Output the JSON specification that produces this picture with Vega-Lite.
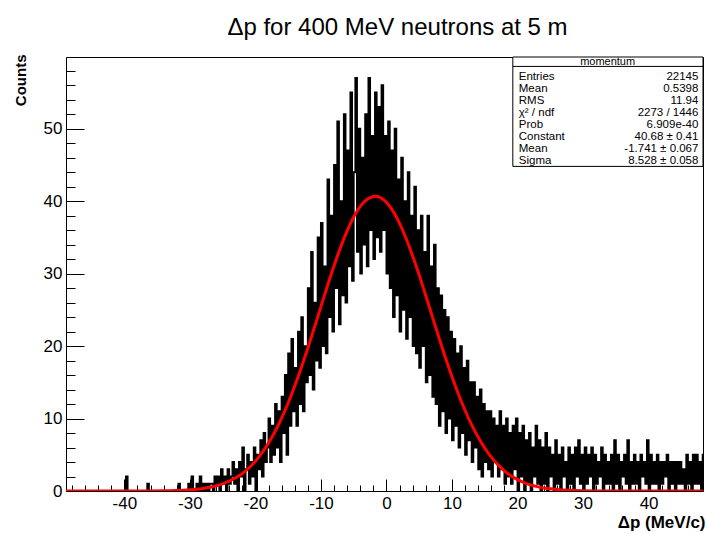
{
  "$schema": "https://vega.github.io/schema/vega-lite/v6.json",
  "width": 637,
  "height": 434,
  "autosize": {"type": "none"},
  "padding": {"left": 66, "top": 57, "right": 4, "bottom": 43},
  "background": "#ffffff",
  "config": {"font": "Liberation Sans", "view": {"stroke": "#000000", "strokeWidth": 1}},
  "title": {"text": "Δp for 400 MeV neutrons at 5 m", "font": "Liberation Sans", "fontSize": 24, "fontWeight": "normal", "color": "#000000", "anchor": "middle", "frame": "group", "dx": 13, "offset": 14},
  "datasets": {
    "hist": [
      {"x":-48.75,"c":0},{"x":-48.5,"c":0},{"x":-48.25,"c":0},{"x":-48,"c":0},{"x":-47.75,"c":0},{"x":-47.5,"c":0},{"x":-47.25,"c":0},{"x":-47,"c":0},
      {"x":-46.75,"c":0},{"x":-46.5,"c":0},{"x":-46.25,"c":0},{"x":-46,"c":0},{"x":-45.75,"c":0},{"x":-45.5,"c":0},{"x":-45.25,"c":0},{"x":-45,"c":0},
      {"x":-44.75,"c":0},{"x":-44.5,"c":0},{"x":-44.25,"c":0},{"x":-44,"c":0},{"x":-43.75,"c":0},{"x":-43.5,"c":0},{"x":-43.25,"c":0},{"x":-43,"c":0},
      {"x":-42.75,"c":0},{"x":-42.5,"c":0},{"x":-42.25,"c":0},{"x":-42,"c":0},{"x":-41.75,"c":0},{"x":-41.5,"c":0},{"x":-41.25,"c":0},{"x":-41,"c":0},
      {"x":-40.75,"c":0},{"x":-40.5,"c":0},{"x":-40.25,"c":0},{"x":-40,"c":0},{"x":-39.75,"c":2},{"x":-39.5,"c":0},{"x":-39.25,"c":0},{"x":-39,"c":0},
      {"x":-38.75,"c":0},{"x":-38.5,"c":0},{"x":-38.25,"c":0},{"x":-38,"c":0},{"x":-37.75,"c":0},{"x":-37.5,"c":0},{"x":-37.25,"c":0},{"x":-37,"c":0},
      {"x":-36.75,"c":0},{"x":-36.5,"c":1},{"x":-36.25,"c":0},{"x":-36,"c":0},{"x":-35.75,"c":0},{"x":-35.5,"c":0},{"x":-35.25,"c":0},{"x":-35,"c":0},
      {"x":-34.75,"c":0},{"x":-34.5,"c":0},{"x":-34.25,"c":0},{"x":-34,"c":0},{"x":-33.75,"c":0},{"x":-33.5,"c":0},{"x":-33.25,"c":0},{"x":-33,"c":0},
      {"x":-32.75,"c":0},{"x":-32.5,"c":0},{"x":-32.25,"c":0},{"x":-32,"c":0},{"x":-31.75,"c":1},{"x":-31.5,"c":0},{"x":-31.25,"c":0},{"x":-31,"c":0},
      {"x":-30.75,"c":0},{"x":-30.5,"c":0},{"x":-30.25,"c":1},{"x":-30,"c":0},{"x":-29.75,"c":2},{"x":-29.5,"c":0},{"x":-29.25,"c":0},{"x":-29,"c":1},
      {"x":-28.75,"c":0},{"x":-28.5,"c":2},{"x":-28.25,"c":0},{"x":-28,"c":1},{"x":-27.75,"c":0},{"x":-27.5,"c":1},{"x":-27.25,"c":0},{"x":-27,"c":1},
      {"x":-26.75,"c":1},{"x":-26.5,"c":0},{"x":-26.25,"c":2},{"x":-26,"c":1},{"x":-25.75,"c":2},{"x":-25.5,"c":0},{"x":-25.25,"c":3},{"x":-25,"c":1},
      {"x":-24.75,"c":2},{"x":-24.5,"c":0},{"x":-24.25,"c":3},{"x":-24,"c":1},{"x":-23.75,"c":2},{"x":-23.5,"c":4},{"x":-23.25,"c":1},{"x":-23,"c":3},
      {"x":-22.75,"c":0},{"x":-22.5,"c":4},{"x":-22.25,"c":2},{"x":-22,"c":6},{"x":-21.75,"c":0},{"x":-21.5,"c":3},{"x":-21.25,"c":5},{"x":-21,"c":1},
      {"x":-20.75,"c":4},{"x":-20.5,"c":2},{"x":-20.25,"c":6},{"x":-20,"c":0},{"x":-19.75,"c":5},{"x":-19.5,"c":3},{"x":-19.25,"c":7},{"x":-19,"c":2},
      {"x":-18.75,"c":8},{"x":-18.5,"c":4},{"x":-18.25,"c":6},{"x":-18,"c":10},{"x":-17.75,"c":4},{"x":-17.5,"c":9},{"x":-17.25,"c":5},{"x":-17,"c":12},
      {"x":-16.75,"c":6},{"x":-16.5,"c":11},{"x":-16.25,"c":4},{"x":-16,"c":13},{"x":-15.75,"c":8},{"x":-15.5,"c":16},{"x":-15.25,"c":5},{"x":-15,"c":19},
      {"x":-14.75,"c":9},{"x":-14.5,"c":21},{"x":-14.25,"c":11},{"x":-14,"c":17},{"x":-13.75,"c":9},{"x":-13.5,"c":22},{"x":-13.25,"c":12},{"x":-13,"c":24},
      {"x":-12.75,"c":11},{"x":-12.5,"c":20},{"x":-12.25,"c":15},{"x":-12,"c":28},{"x":-11.75,"c":16},{"x":-11.5,"c":33},{"x":-11.25,"c":14},{"x":-11,"c":26},
      {"x":-10.75,"c":18},{"x":-10.5,"c":35},{"x":-10.25,"c":17},{"x":-10,"c":37},{"x":-9.75,"c":20},{"x":-9.5,"c":31},{"x":-9.25,"c":19},{"x":-9,"c":43},
      {"x":-8.75,"c":24},{"x":-8.5,"c":38},{"x":-8.25,"c":22},{"x":-8,"c":45},{"x":-7.75,"c":28},{"x":-7.5,"c":51},{"x":-7.25,"c":23},{"x":-7,"c":40},
      {"x":-6.75,"c":27},{"x":-6.5,"c":52},{"x":-6.25,"c":26},{"x":-6,"c":47},{"x":-5.75,"c":31},{"x":-5.5,"c":55},{"x":-5.25,"c":29},{"x":-5,"c":44},
      {"x":-4.75,"c":57},{"x":-4.5,"c":33},{"x":-4.25,"c":50},{"x":-4,"c":30},{"x":-3.75,"c":46},{"x":-3.5,"c":34},{"x":-3.25,"c":52},{"x":-3,"c":31},
      {"x":-2.75,"c":57},{"x":-2.5,"c":36},{"x":-2.25,"c":49},{"x":-2,"c":32},{"x":-1.75,"c":55},{"x":-1.5,"c":35},{"x":-1.25,"c":53},{"x":-1,"c":33},
      {"x":-0.75,"c":56},{"x":-0.5,"c":36},{"x":-0.25,"c":49},{"x":0,"c":30},{"x":0.25,"c":51},{"x":0.5,"c":28},{"x":0.75,"c":47},{"x":1,"c":24},
      {"x":1.25,"c":50},{"x":1.5,"c":27},{"x":1.75,"c":43},{"x":2,"c":22},{"x":2.25,"c":46},{"x":2.5,"c":25},{"x":2.75,"c":40},{"x":3,"c":21},
      {"x":3.25,"c":44},{"x":3.5,"c":24},{"x":3.75,"c":38},{"x":4,"c":20},{"x":4.25,"c":42},{"x":4.5,"c":19},{"x":4.75,"c":36},{"x":5,"c":17},
      {"x":5.25,"c":38},{"x":5.5,"c":20},{"x":5.75,"c":33},{"x":6,"c":15},{"x":6.25,"c":38},{"x":6.5,"c":16},{"x":6.75,"c":31},{"x":7,"c":13},
      {"x":7.25,"c":34},{"x":7.5,"c":12},{"x":7.75,"c":28},{"x":8,"c":9},{"x":8.25,"c":27},{"x":8.5,"c":11},{"x":8.75,"c":25},{"x":9,"c":8},
      {"x":9.25,"c":24},{"x":9.5,"c":10},{"x":9.75,"c":22},{"x":10,"c":7},{"x":10.25,"c":21},{"x":10.5,"c":9},{"x":10.75,"c":19},{"x":11,"c":6},
      {"x":11.25,"c":20},{"x":11.5,"c":8},{"x":11.75,"c":17},{"x":12,"c":5},{"x":12.25,"c":18},{"x":12.5,"c":7},{"x":12.75,"c":15},{"x":13,"c":4},
      {"x":13.25,"c":15},{"x":13.5,"c":6},{"x":13.75,"c":13},{"x":14,"c":3},{"x":14.25,"c":14},{"x":14.5,"c":2},{"x":14.75,"c":12},{"x":15,"c":4},
      {"x":15.25,"c":11},{"x":15.5,"c":3},{"x":15.75,"c":11},{"x":16,"c":2},{"x":16.25,"c":10},{"x":16.5,"c":4},{"x":16.75,"c":9},{"x":17,"c":2},
      {"x":17.25,"c":11},{"x":17.5,"c":3},{"x":17.75,"c":9},{"x":18,"c":1},{"x":18.25,"c":10},{"x":18.5,"c":2},{"x":18.75,"c":8},{"x":19,"c":1},
      {"x":19.25,"c":9},{"x":19.5,"c":3},{"x":19.75,"c":10},{"x":20,"c":0},{"x":20.25,"c":8},{"x":20.5,"c":2},{"x":20.75,"c":9},{"x":21,"c":0},
      {"x":21.25,"c":7},{"x":21.5,"c":1},{"x":21.75,"c":8},{"x":22,"c":0},{"x":22.25,"c":6},{"x":22.5,"c":2},{"x":22.75,"c":9},{"x":23,"c":1},
      {"x":23.25,"c":7},{"x":23.5,"c":0},{"x":23.75,"c":6},{"x":24,"c":1},{"x":24.25,"c":8},{"x":24.5,"c":0},{"x":24.75,"c":6},{"x":25,"c":2},
      {"x":25.25,"c":5},{"x":25.5,"c":0},{"x":25.75,"c":7},{"x":26,"c":1},{"x":26.25,"c":5},{"x":26.5,"c":0},{"x":26.75,"c":6},{"x":27,"c":2},
      {"x":27.25,"c":4},{"x":27.5,"c":0},{"x":27.75,"c":6},{"x":28,"c":1},{"x":28.25,"c":5},{"x":28.5,"c":0},{"x":28.75,"c":6},{"x":29,"c":2},
      {"x":29.25,"c":7},{"x":29.5,"c":1},{"x":29.75,"c":5},{"x":30,"c":0},{"x":30.25,"c":6},{"x":30.5,"c":1},{"x":30.75,"c":5},{"x":31,"c":2},
      {"x":31.25,"c":6},{"x":31.5,"c":0},{"x":31.75,"c":5},{"x":32,"c":1},{"x":32.25,"c":4},{"x":32.5,"c":2},{"x":32.75,"c":6},{"x":33,"c":0},
      {"x":33.25,"c":5},{"x":33.5,"c":1},{"x":33.75,"c":4},{"x":34,"c":1},{"x":34.25,"c":5},{"x":34.5,"c":0},{"x":34.75,"c":7},{"x":35,"c":1},
      {"x":35.25,"c":5},{"x":35.5,"c":0},{"x":35.75,"c":4},{"x":36,"c":2},{"x":36.25,"c":5},{"x":36.5,"c":1},{"x":36.75,"c":7},{"x":37,"c":0},
      {"x":37.25,"c":4},{"x":37.5,"c":1},{"x":37.75,"c":5},{"x":38,"c":1},{"x":38.25,"c":4},{"x":38.5,"c":0},{"x":38.75,"c":5},{"x":39,"c":2},
      {"x":39.25,"c":4},{"x":39.5,"c":1},{"x":39.75,"c":7},{"x":40,"c":0},{"x":40.25,"c":5},{"x":40.5,"c":1},{"x":40.75,"c":4},{"x":41,"c":1},
      {"x":41.25,"c":5},{"x":41.5,"c":0},{"x":41.75,"c":4},{"x":42,"c":1},{"x":42.25,"c":4},{"x":42.5,"c":2},{"x":42.75,"c":5},{"x":43,"c":0},
      {"x":43.25,"c":4},{"x":43.5,"c":1},{"x":43.75,"c":4},{"x":44,"c":0},{"x":44.25,"c":4},{"x":44.5,"c":1},{"x":44.75,"c":4},{"x":45,"c":1},
      {"x":45.25,"c":3},{"x":45.5,"c":0},{"x":45.75,"c":5},{"x":46,"c":1},{"x":46.25,"c":4},{"x":46.5,"c":0},{"x":46.75,"c":5},{"x":47,"c":1},
      {"x":47.25,"c":5},{"x":47.5,"c":1},{"x":47.75,"c":4},{"x":48,"c":0},{"x":48.25,"c":5},{"x":48.5,"c":1}
    ],
    "fit": [
      {"x":-49,"f":0},{"x":-45,"f":0},{"x":-42,"f":0.0006},{"x":-40,"f":0.0017},{"x":-38,"f":0.0048},{"x":-36,"f":0.0127},{"x":-34,"f":0.032},{"x":-33,"f":0.049},
      {"x":-32,"f":0.075},{"x":-31,"f":0.113},{"x":-30,"f":0.168},{"x":-29,"f":0.246},{"x":-28,"f":0.355},{"x":-27,"f":0.506},{"x":-26,"f":0.711},{"x":-25,"f":0.986},
      {"x":-24,"f":1.349},{"x":-23,"f":1.82},{"x":-22,"f":2.421},{"x":-21,"f":3.176},{"x":-20,"f":4.11},{"x":-19,"f":5.247},{"x":-18,"f":6.606},{"x":-17,"f":8.21},
      {"x":-16,"f":10.05},{"x":-15,"f":12.14},{"x":-14,"f":14.48},{"x":-13,"f":17.02},{"x":-12,"f":19.73},{"x":-11,"f":22.56},{"x":-10,"f":25.45},{"x":-9,"f":28.32},
      {"x":-8,"f":31.08},{"x":-7,"f":33.63},{"x":-6,"f":35.91},{"x":-5,"f":37.82},{"x":-4,"f":39.28},{"x":-3,"f":40.24},{"x":-2,"f":40.66},{"x":-1.741,"f":40.68},
      {"x":-1,"f":40.53},{"x":0,"f":39.84},{"x":1,"f":38.63},{"x":2,"f":36.95},{"x":3,"f":34.85},{"x":4,"f":32.43},{"x":5,"f":29.77},{"x":6,"f":26.94},
      {"x":7,"f":24.06},{"x":8,"f":21.19},{"x":9,"f":18.4},{"x":10,"f":15.77},{"x":11,"f":13.33},{"x":12,"f":11.11},{"x":13,"f":9.13},{"x":14,"f":7.41},
      {"x":15,"f":5.92},{"x":16,"f":4.67},{"x":17,"f":3.64},{"x":18,"f":2.79},{"x":19,"f":2.11},{"x":20,"f":1.58},{"x":21,"f":1.163},{"x":22,"f":0.845},
      {"x":23,"f":0.605},{"x":24,"f":0.428},{"x":25,"f":0.298},{"x":26,"f":0.205},{"x":28,"f":0.093},{"x":30,"f":0.04},{"x":32,"f":0.016},{"x":35,"f":0.004},
      {"x":40,"f":0.0002},{"x":48.5,"f":0}
    ],
    "stats": [
      {"title": "momentum",
       "names": "Entries\nMean\nRMS\nχ² / ndf\nProb\nConstant\nMean\nSigma",
       "vals": "22145\n0.5398\n11.94\n2273 / 1446\n6.909e-40\n40.68 ± 0.41\n-1.741 ± 0.067\n8.528 ± 0.058"}
    ]
  },
  "layer": [
    {
      "data": {"name": "hist"},
      "mark": {"type": "line", "interpolate": "step-after", "color": "#000000", "strokeWidth": 1.9, "clip": true},
      "encoding": {
        "x": {"field": "x", "type": "quantitative",
              "scale": {"domain": [-48.9, 48.3], "nice": false, "zero": false},
              "axis": {"orient": "bottom", "values": [-40, -30, -20, -10, 0, 10, 20, 30, 40], "labelExpr": "'' + datum.value",
                       "tickSize": -12, "tickColor": "#000000", "tickWidth": 1, "domain": false, "grid": false,
                       "labelFont": "Liberation Sans", "labelFontSize": 17, "labelColor": "#000000", "labelPadding": 16,
                       "labelFlush": false, "labelOverlap": false,
                       "title": "Δp (MeV/c)", "titleFont": "Liberation Sans", "titleFontSize": 17, "titleFontWeight": "bold",
                       "titleColor": "#000000", "titleAnchor": "end", "titleAlign": "right", "titleBaseline": "alphabetic",
                       "titleX": 639, "titleY": 36}},
        "y": {"field": "c", "type": "quantitative",
              "scale": {"domain": [0, 59.9], "nice": false, "zero": true},
              "axis": {"orient": "left", "values": [0, 10, 20, 30, 40, 50], "labelExpr": "'' + datum.value",
                       "tickSize": -18, "tickColor": "#000000", "tickWidth": 1, "domain": false, "grid": false,
                       "labelFont": "Liberation Sans", "labelFontSize": 17, "labelColor": "#000000", "labelPadding": 22,
                       "labelFlush": false, "labelOverlap": false,
                       "title": "Counts", "titleFont": "Liberation Sans", "titleFontSize": 15, "titleFontWeight": "bold",
                       "titleColor": "#000000", "titleAngle": -90, "titleAlign": "right", "titleBaseline": "alphabetic",
                       "titleX": -41, "titleY": -3}}
      }
    },
    {
      "data": {"name": "fit"},
      "mark": {"type": "line", "interpolate": "monotone", "color": "#ff0000", "strokeWidth": 3, "clip": true},
      "encoding": {
        "x": {"field": "x", "type": "quantitative",
              "axis": {"orient": "bottom", "values": [-48, -46, -44, -42, -38, -36, -34, -32, -28, -26, -24, -22, -18, -16, -14, -12, -8, -6, -4, -2, 2, 4, 6, 8, 12, 14, 16, 18, 22, 24, 26, 28, 32, 34, 36, 38, 42, 44, 46, 48],
                       "tickSize": -6, "tickColor": "#000000", "tickWidth": 1, "domain": false, "grid": false, "labels": false, "title": null}},
        "y": {"field": "f", "type": "quantitative",
              "axis": {"orient": "left", "values": [2, 4, 6, 8, 12, 14, 16, 18, 22, 24, 26, 28, 32, 34, 36, 38, 42, 44, 46, 48, 52, 54, 56, 58],
                       "tickSize": -9, "tickColor": "#000000", "tickWidth": 1, "domain": false, "grid": false, "labels": false, "title": null}}
      }
    },
    {
      "data": {"name": "stats"},
      "mark": {"type": "rect", "fill": "#ffffff", "stroke": "#000000", "strokeWidth": 1},
      "encoding": {
        "x": {"datum": 19.28, "type": "quantitative", "axis": null},
        "x2": {"datum": 48.3},
        "y": {"datum": 59.9, "type": "quantitative", "axis": null},
        "y2": {"datum": 44.8}
      }
    },
    {
      "data": {"name": "stats"},
      "mark": {"type": "rule", "color": "#000000", "strokeWidth": 1},
      "encoding": {
        "x": {"datum": 19.28, "type": "quantitative", "axis": null},
        "x2": {"datum": 48.3},
        "y": {"datum": 58.6, "type": "quantitative", "axis": null}
      }
    },
    {
      "data": {"name": "stats"},
      "mark": {"type": "text", "font": "Liberation Sans", "fontSize": 11, "color": "#000000", "align": "center", "baseline": "middle"},
      "encoding": {
        "x": {"datum": 33.75, "type": "quantitative", "axis": null},
        "y": {"datum": 59.25, "type": "quantitative", "axis": null},
        "text": {"field": "title"}
      }
    },
    {
      "data": {"name": "stats"},
      "mark": {"type": "text", "font": "Liberation Sans", "fontSize": 11.5, "color": "#000000", "align": "left", "baseline": "top", "lineBreak": "\n", "lineHeight": 12},
      "encoding": {
        "x": {"datum": 20.19, "type": "quantitative", "axis": null},
        "y": {"datum": 57.94, "type": "quantitative", "axis": null},
        "text": {"field": "names"}
      }
    },
    {
      "data": {"name": "stats"},
      "mark": {"type": "text", "font": "Liberation Sans", "fontSize": 11.5, "color": "#000000", "align": "right", "baseline": "top", "lineBreak": "\n", "lineHeight": 12},
      "encoding": {
        "x": {"datum": 47.6, "type": "quantitative", "axis": null},
        "y": {"datum": 57.94, "type": "quantitative", "axis": null},
        "text": {"field": "vals"}
      }
    }
  ],
  "resolve": {"axis": {"x": "independent", "y": "independent"}}
}
